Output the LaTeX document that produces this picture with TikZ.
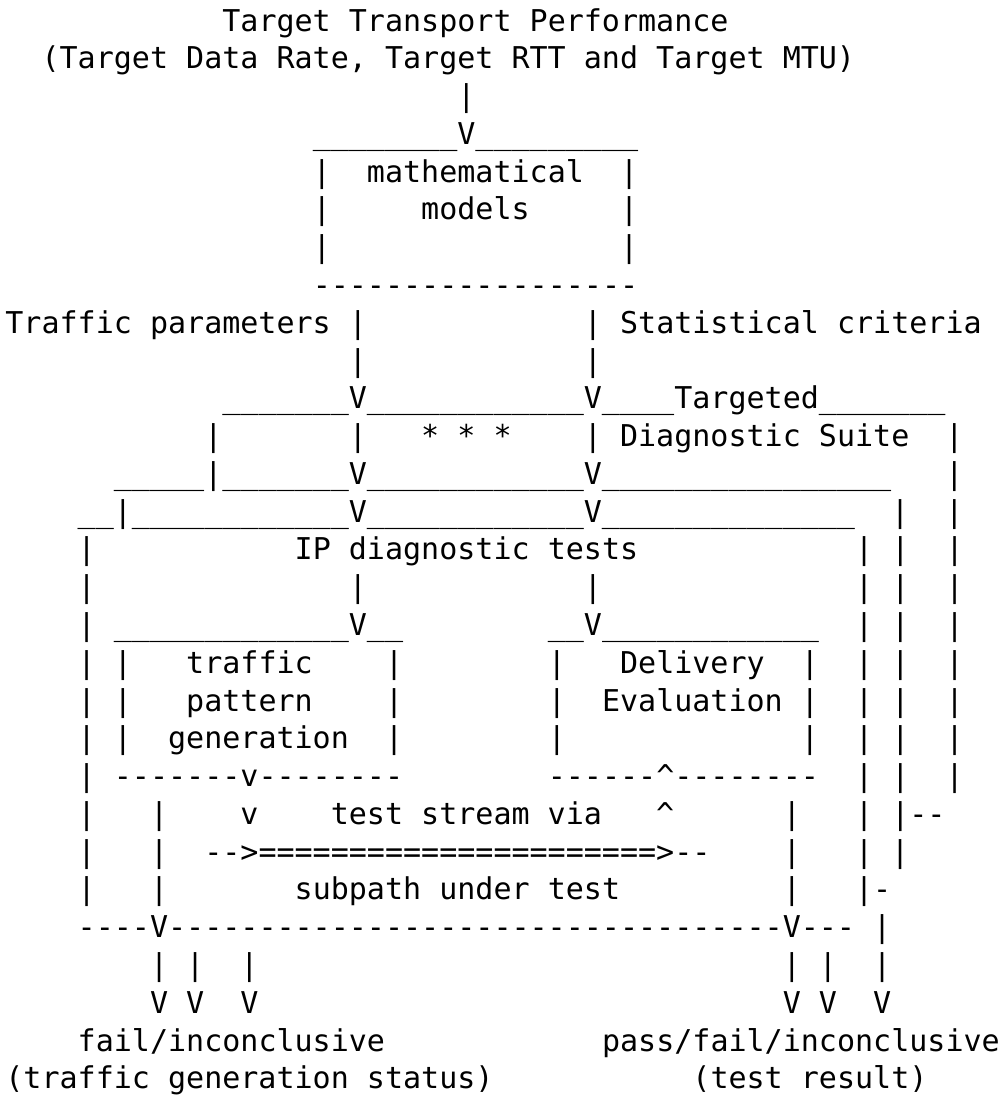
\documentclass[tikz,border=0pt]{standalone}
\usepackage{fontspec}
\setmonofont{DejaVu Sans Mono}
\newlength\cw
\setlength\cw{18.08pt}
\newcommand\sk[1]{\hspace*{#1\cw}}
\newcount\myrepc
\newcommand\myrep[2]{\myrepc=#1\relax\loop\ifnum\myrepc>0 #2\advance\myrepc-1\repeat}
\newcommand\myus[1]{\myrep{#1}{\_}}
\newcommand\myds[1]{\myrep{#1}{-}}
\newcommand\myeq[1]{\myrep{#1}{=}}
\newcommand\asciirow[2]{\node[asciiline] (L#1) at (5.4pt,{-31pt-(#1-1)*37.78pt}) {#2};}
\tikzset{asciiline/.style={anchor=base west, inner sep=0pt, outer sep=0pt,
  font=\ttfamily\fontsize{30.03pt}{37.78pt}\selectfont\frenchspacing, text=black}}
\begin{document}
\begin{tikzpicture}
\useasboundingbox[fill=white] (0pt,0pt) rectangle (1002pt,-1098pt);
\asciirow{1}{\sk{12}Target Transport Performance}
\asciirow{2}{\sk{2}(Target Data Rate, Target RTT and Target MTU)}
\asciirow{3}{\sk{25}|}
\asciirow{4}{\sk{17}\myus{8}V\myus{9}}
\asciirow{5}{\sk{17}|\sk{2}mathematical\sk{2}|}
\asciirow{6}{\sk{17}|\sk{5}models\sk{5}|}
\asciirow{7}{\sk{17}|\sk{16}|}
\asciirow{8}{\sk{17}\myds{18}}
\asciirow{9}{Traffic parameters |\sk{12}| Statistical criteria}
\asciirow{10}{\sk{19}|\sk{12}|}
\asciirow{11}{\sk{12}\myus{7}V\myus{12}V\myus{4}Targeted\myus{7}}
\asciirow{12}{\sk{11}|\sk{7}|\sk{3}* * *\sk{4}| Diagnostic Suite\sk{2}|}
\asciirow{13}{\sk{6}\myus{5}|\myus{7}V\myus{12}V\myus{16}\sk{3}|}
\asciirow{14}{\sk{4}\myus{2}|\myus{12}V\myus{12}V\myus{14}\sk{2}|\sk{2}|}
\asciirow{15}{\sk{4}|\sk{11}IP diagnostic tests\sk{12}| |\sk{2}|}
\asciirow{16}{\sk{4}|\sk{14}|\sk{12}|\sk{14}| |\sk{2}|}
\asciirow{17}{\sk{4}| \myus{13}V\myus{2}\sk{8}\myus{2}V\myus{12}\sk{2}| |\sk{2}|}
\asciirow{18}{\sk{4}| |\sk{3}traffic\sk{4}|\sk{8}|\sk{3}Delivery\sk{2}|\sk{2}| |\sk{2}|}
\asciirow{19}{\sk{4}| |\sk{3}pattern\sk{4}|\sk{8}|\sk{2}Evaluation |\sk{2}| |\sk{2}|}
\asciirow{20}{\sk{4}| |\sk{2}generation\sk{2}|\sk{8}|\sk{13}|\sk{2}| |\sk{2}|}
\asciirow{21}{\sk{4}| \myds{7}v\myds{8}\sk{8}\myds{6}\textasciicircum\myds{8}\sk{2}| |\sk{2}|}
\asciirow{22}{\sk{4}|\sk{3}|\sk{4}v\sk{4}test stream via\sk{3}\textasciicircum\sk{6}|\sk{3}| |\myds{2}}
\asciirow{23}{\sk{4}|\sk{3}|\sk{2}\myds{2}>\myeq{22}>\myds{2}\sk{4}|\sk{3}| |}
\asciirow{24}{\sk{4}|\sk{3}|\sk{7}subpath under test\sk{9}|\sk{3}|-}
\asciirow{25}{\sk{4}\myds{4}V\myds{34}V\myds{3} |}
\asciirow{26}{\sk{8}| |\sk{2}|\sk{29}| |\sk{2}|}
\asciirow{27}{\sk{8}V V\sk{2}V\sk{29}V V\sk{2}V}
\asciirow{28}{\sk{4}fail/inconclusive\sk{12}pass/fail/inconclusive}
\asciirow{29}{(traffic generation status)\sk{11}(test result)}
\end{tikzpicture}
\end{document}
